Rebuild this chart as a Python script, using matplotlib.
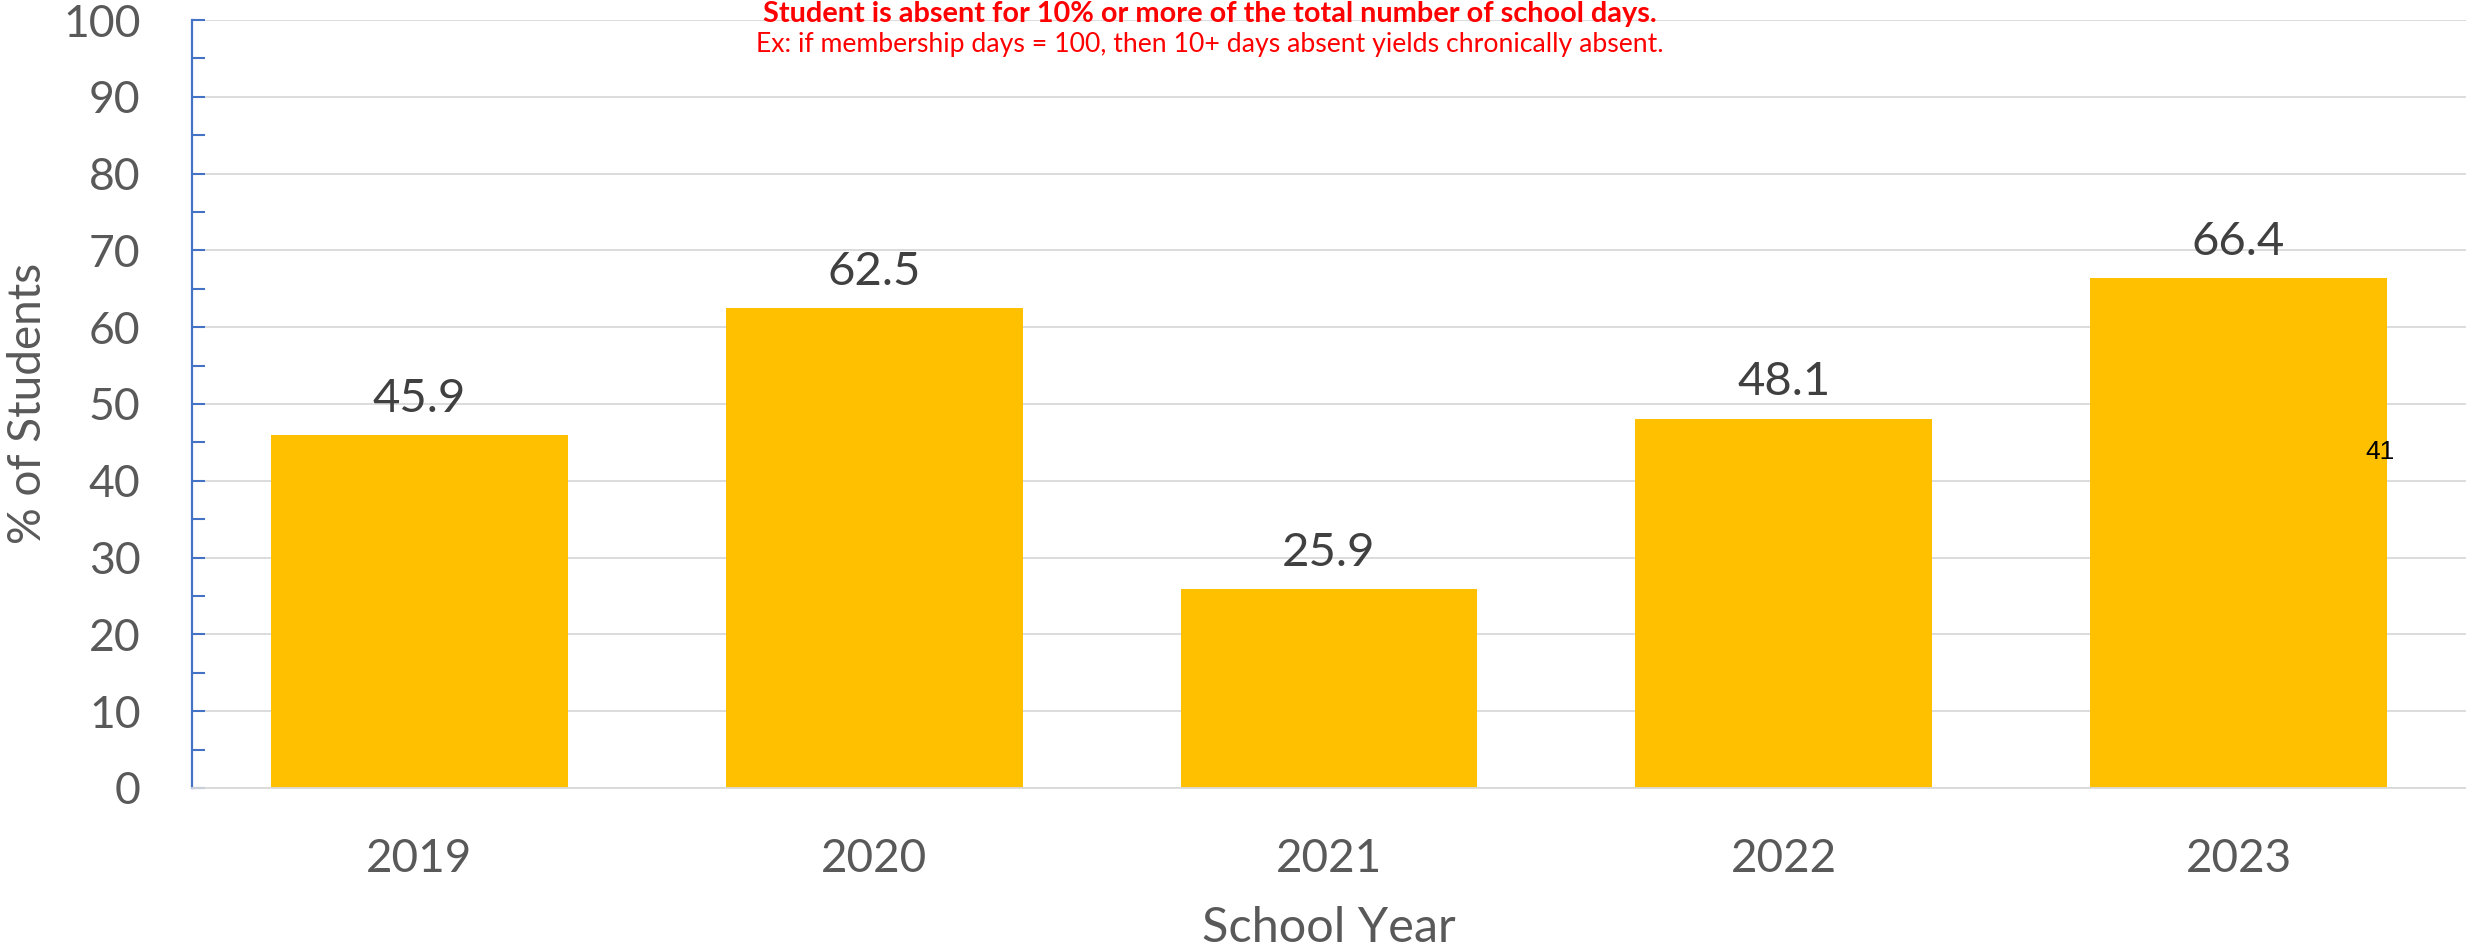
import matplotlib
matplotlib.use("Agg")
import matplotlib.pyplot as plt
from matplotlib.ticker import MultipleLocator

# ---- data ----
years = ["2019", "2020", "2021", "2022", "2023"]
pct_students = [45.9, 62.5, 25.9, 48.1, 66.4]
stray_label = "41"
note_line1 = "Student is absent for 10% or more of the total number of school days."
note_line2 = "Ex: if membership days = 100, then 10+ days absent yields chronically absent."
y_ticks = [0, 10, 20, 30, 40, 50, 60, 70, 80, 90, 100]

BAR = "#FFC000"
BLUE = "#4472C4"
GRID = "#D9D9D9"
TICK_C = "#595959"
LBL_C = "#404040"

plt.rcParams['font.family'] = ['Lato', 'DejaVu Sans']

fig = plt.figure(figsize=(24.66, 9.51), dpi=100)
ax = fig.add_axes([192/2466, 163/951, 1 - 192/2466, (788-20)/951])

x = list(range(len(years)))
bars = ax.bar(x, pct_students, width=0.653, color=BAR, zorder=2)
ax.bar_label(bars, labels=[f"{v:.1f}" for v in pct_students], padding=11,
             fontsize=34, color=LBL_C)

ax.set_xlim(-0.5, len(years) - 0.5)
ax.set_ylim(0, 100)
ax.set_yticks(y_ticks)
ax.yaxis.set_minor_locator(MultipleLocator(5))
ax.set_xticks(x)
ax.set_xticklabels(years)

ax.grid(axis='y', color=GRID, linewidth=1.3, zorder=0)
ax.set_axisbelow(True)

for s in ['top', 'right']:
    ax.spines[s].set_visible(False)
ax.spines['left'].set_color(BLUE)
ax.spines['left'].set_linewidth(1.6)
ax.spines['bottom'].set_color(GRID)
ax.spines['bottom'].set_linewidth(1.3)

ax.tick_params(axis='y', which='both', direction='in', length=9, width=1.5,
               color=BLUE, labelsize=32, labelcolor=TICK_C, pad=37)
ax.tick_params(axis='x', length=0, labelsize=33, labelcolor=TICK_C, pad=36)

ax.set_xlabel("School Year", fontsize=35, color=TICK_C)
ax.xaxis.set_label_coords(0.5, -0.153)
ax.set_ylabel("% of Students", fontsize=33, color=TICK_C)
ax.yaxis.set_label_coords(-0.063, 0.5007)

ax.text(4.311, 43.75, stray_label, fontsize=19, color="black",
        ha='center', va='center', family=['Liberation Sans', 'DejaVu Sans'])

fig.text(1210/2466, 1 - 22/951, note_line1, color="#FF0000", fontsize=20.8,
         fontweight='bold', ha='center', va='baseline')
fig.text(1210/2466, 1 - 52/951, note_line2, color="#FF0000", fontsize=19.2,
         ha='center', va='baseline')

fig.savefig("out.png", dpi=100)
